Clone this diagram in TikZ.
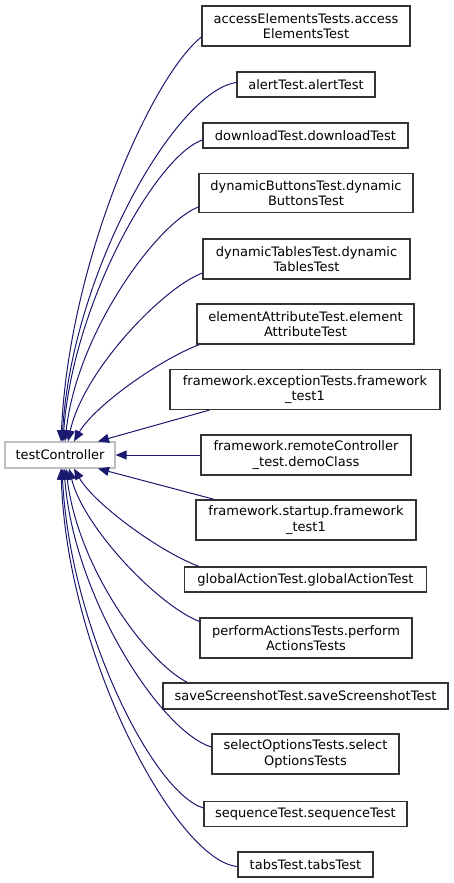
\documentclass[tikz,border=0pt]{standalone}
\usepackage{fontspec}
\setmainfont{DejaVu Sans}
\usetikzlibrary{arrows.meta}
\definecolor{edgecol}{HTML}{191970}
\definecolor{boxcol}{HTML}{333333}
\definecolor{rootcol}{HTML}{BFBFBF}
\tikzset{
  cls/.style={draw=boxcol, line width=1.2pt, fill=white, inner sep=0pt, align=center,
    font=\fontsize{13}{15.5}\selectfont, text=black},
  root/.style={draw=rootcol, line width=1.2pt, fill=white, inner sep=0pt, align=center,
    font=\fontsize{13}{15.5}\selectfont, text=black},
  edge/.style={draw=edgecol, line width=1pt, -{Triangle[length=11pt,width=9pt]}, shorten >=0pt}
}
\begin{document}
\begin{tikzpicture}[x=1pt,y=-1pt]
\useasboundingbox (0,0) rectangle (453,883);
\node[root, minimum width=110pt, minimum height=26pt] (tc) at (60,455) {testController};

\node[cls, minimum width=208pt, minimum height=40pt] (n1) at (306,26) {accessElementsTests.access\\ElementsTest};
\node[cls, minimum width=138pt, minimum height=25pt] (n2) at (306,84.5) {alertTest.alertTest};
\node[cls, minimum width=205pt, minimum height=25pt] (n3) at (305.5,135.5) {downloadTest.downloadTest};
\node[cls, minimum width=214pt, minimum height=39pt] (n4) at (306,193) {dynamicButtonsTest.dynamic\\ButtonsTest};
\node[cls, minimum width=207pt, minimum height=40pt] (n5) at (306.5,259) {dynamicTablesTest.dynamic\\TablesTest};
\node[cls, minimum width=217pt, minimum height=40pt] (n6) at (305.5,324) {elementAttributeTest.element\\AttributeTest};
\node[cls, minimum width=270pt, minimum height=40pt] (n7) at (305,389.5) {framework.exceptionTests.framework\\\_test1};
\node[cls, minimum width=210pt, minimum height=40pt] (n8) at (306,455) {framework.remoteController\\\_test.demoClass};
\node[cls, minimum width=220pt, minimum height=40pt] (n9) at (306,520) {framework.startup.framework\\\_test1};
\node[cls, minimum width=242pt, minimum height=25pt] (n10) at (305.5,579.5) {globalActionTest.globalActionTest};
\node[cls, minimum width=212pt, minimum height=40pt] (n11) at (306,638) {performActionsTests.perform\\ActionsTests};
\node[cls, minimum width=285pt, minimum height=26pt] (n12) at (305.5,696) {saveScreenshotTest.saveScreenshotTest};
\node[cls, minimum width=187pt, minimum height=40pt] (n13) at (305.5,754) {selectOptionsTests.select\\OptionsTests};
\node[cls, minimum width=203pt, minimum height=25pt] (n14) at (305.5,814) {sequenceTest.sequenceTest};
\node[cls, minimum width=135pt, minimum height=25pt] (n15) at (305.5,864.5) {tabsTest.tabsTest};

\draw[edge] ([yshift=-11pt]n1.west) .. controls +(-50,40) and +(8,-180) .. ([xshift=1pt]tc.north);
\draw[edge] ([yshift=2pt]n2.west) .. controls +(-60,8) and +(10,-170) .. ([xshift=2pt]tc.north);
\draw[edge] ([yshift=-4.5pt]n3.west) .. controls +(-45,15) and +(10,-140) .. ([xshift=3pt]tc.north);
\draw[edge] ([yshift=-14pt]n4.west) .. controls +(-40,15) and +(12,-110) .. ([xshift=5pt]tc.north);
\draw[edge] ([yshift=-14pt]n5.west) .. controls +(-40,15) and +(15,-70) .. ([xshift=8pt]tc.north);
\draw[edge] ([xshift=3pt]n6.south west) .. controls +(-40,15) and +(20,-35) .. ([xshift=14pt]tc.north);
\draw[edge] ([xshift=40pt]n7.south west) -- ([xshift=38pt]tc.north);
\draw[edge] (n8.west) -- (tc.east);
\draw[edge] ([xshift=19pt]n9.north west) -- ([xshift=38pt]tc.south);
\draw[edge] ([xshift=15pt]n10.north west) .. controls +(-40,-15) and +(20,35) .. ([xshift=14pt]tc.south);
\draw[edge] ([yshift=-4pt]n11.north west) .. controls +(-40,-15) and +(15,60) .. ([xshift=9pt]tc.south);
\draw[edge] ([xshift=25pt]n12.north west) .. controls +(-40,-20) and +(12,100) .. ([xshift=6pt]tc.south);
\draw[edge] ([yshift=7pt]n13.west) .. controls +(-50,-15) and +(10,130) .. ([xshift=4pt]tc.south);
\draw[edge] ([yshift=6pt]n14.west) .. controls +(-50,-15) and +(8,160) .. ([xshift=2pt]tc.south);
\draw[edge] ([yshift=-2pt]n15.west) .. controls +(-60,-5) and +(6,190) .. ([xshift=1pt]tc.south);
\end{tikzpicture}
\end{document}
